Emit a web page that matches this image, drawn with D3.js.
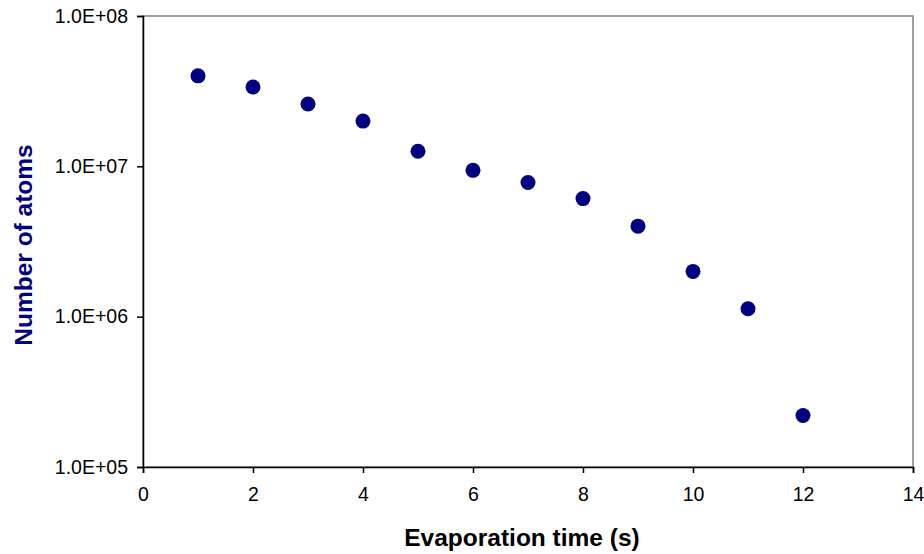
<!DOCTYPE html>
<html>
<head>
<meta charset="utf-8">
<script src="https://cdn.jsdelivr.net/npm/d3@7"></script>
<style>
  body { margin: 0; background: #fff; }
  text { font-family: Arial, "Liberation Sans", sans-serif; }
</style>
</head>
<body>
<div id="chart"></div>
<script>
// evaporation time (s) and atom number
var times = [1, 2, 3, 4, 5, 6, 7, 8, 9, 10, 11, 12];
var atoms = [4.0e7, 3.37e7, 2.6e7, 2.0e7, 1.26e7, 9.4e6, 7.8e6, 6.1e6, 4.0e6, 2.0e6, 1.13e6, 2.2e5];
var xTicks = [0, 2, 4, 6, 8, 10, 12, 14];
var yTicks = [1e5, 1e6, 1e7, 1e8];

var width = 924, height = 554;
var margin = { top: 16, right: 11, bottom: 87, left: 143 };

var svg = d3.select("#chart").append("svg")
  .attr("width", width)
  .attr("height", height);

var x = d3.scaleLinear().domain([0, 14]).range([margin.left, width - margin.right]);
var y = d3.scaleLog().domain([1e5, 1e8]).range([height - margin.bottom, margin.top]);

// plot area frame (grey top/right)
svg.append("rect")
  .attr("x", x(0)).attr("y", y(1e8))
  .attr("width", x(14) - x(0)).attr("height", y(1e5) - y(1e8))
  .attr("fill", "none").attr("stroke", "#808080").attr("stroke-width", 1.5);

var fmt = function (d) {
  var e = Math.round(Math.log10(d));
  return "1.0E+" + (e < 10 ? "0" : "") + e;
};

var xAxis = svg.append("g")
  .attr("transform", "translate(0," + y(1e5) + ")")
  .call(d3.axisBottom(x).tickValues(xTicks).tickSize(6).tickPadding(10));

var yAxis = svg.append("g")
  .attr("transform", "translate(" + x(0) + ",0)")
  .call(d3.axisLeft(y).tickValues(yTicks).tickFormat(fmt).tickSize(6).tickPadding(9));

[xAxis, yAxis].forEach(function (g) {
  g.selectAll("path, line").attr("stroke", "#000").attr("stroke-width", 1.5);
  g.selectAll("text").attr("font-size", 19.5).attr("fill", "#000")
    .attr("font-family", "Arial, 'Liberation Sans', sans-serif");
});
xAxis.selectAll("text").attr("dy", "0.9em");

svg.selectAll(".pt")
  .data(times)
  .enter().append("circle")
  .attr("class", "pt")
  .attr("cx", function (d) { return x(d); })
  .attr("cy", function (d, i) { return y(atoms[i]); })
  .attr("r", 7.5)
  .attr("fill", "#000080");

svg.append("text")
  .attr("x", (x(0) + x(14)) / 2 - 6)
  .attr("y", 546)
  .attr("text-anchor", "middle")
  .attr("font-size", 24.5)
  .attr("font-weight", "bold")
  .attr("fill", "#000")
  .text("Evaporation time (s)");

svg.append("text")
  .attr("transform", "translate(32,245) rotate(-90)")
  .attr("text-anchor", "middle")
  .attr("font-size", 24.5)
  .attr("font-weight", "bold")
  .attr("fill", "#000080")
  .text("Number of atoms");
</script>
</body>
</html>
